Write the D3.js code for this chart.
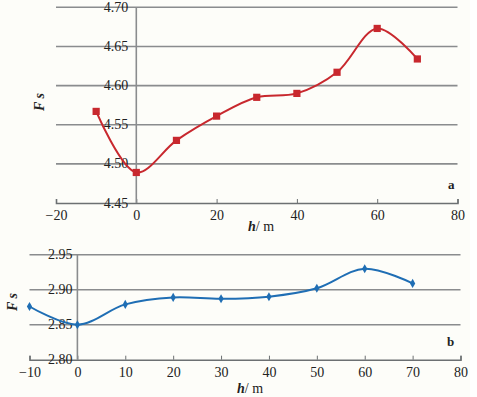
<!DOCTYPE html>
<html>
<head>
<meta charset="utf-8">
<script src="https://cdn.jsdelivr.net/npm/d3@7"></script>
<style>
  body { margin: 0; background: #fff; }
  svg text { font-family: "Liberation Serif", "Times New Roman", serif; fill: #222; }
</style>
</head>
<body>
<svg id="chart" width="477" height="397"></svg>
<script>
// Panel a
const hA = [-10, 0, 10, 20, 30, 40, 50, 60, 70];
const fsA = [4.567, 4.489, 4.530, 4.561, 4.585, 4.590, 4.617, 4.673, 4.634];
const xTicksA = [-20, 0, 20, 40, 60, 80];
const yTicksA = [4.45, 4.50, 4.55, 4.60, 4.65, 4.70];

// Panel b
const hB = [-10, 0, 10, 20, 30, 40, 50, 60, 70];
const fsB = [2.876, 2.850, 2.879, 2.889, 2.887, 2.890, 2.902, 2.930, 2.909];
const xTicksB = [-10, 0, 10, 20, 30, 40, 50, 60, 70, 80];
const yTicksB = [2.80, 2.85, 2.90, 2.95];

const serif = '"Liberation Serif", "Times New Roman", serif';
const svg = d3.select('#chart');

svg.append('rect')
  .attr('x', 0).attr('y', 0)
  .attr('width', 470).attr('height', 397)
  .attr('fill', '#fdfdf9');

function panel(opts) {
  const { xs, ys, xDomain, yDomain, xRange, yRange, xTicks, yTicks,
          color, marker, label, labelPos, hPos, fsPos, tickDx } = opts;
  const x = d3.scaleLinear().domain(xDomain).range(xRange);
  const y = d3.scaleLinear().domain(yDomain).range(yRange);
  const g = svg.append('g');

  // gridlines
  g.selectAll('line.grid')
    .data(yTicks.slice(1))
    .enter().append('line')
    .attr('x1', xRange[0]).attr('x2', xRange[1])
    .attr('y1', d => y(d)).attr('y2', d => y(d))
    .attr('stroke', '#8a8c8e').attr('stroke-width', 1.6);

  // x axis
  const xAxis = g.append('g')
    .attr('transform', `translate(0,${yRange[0]})`)
    .call(d3.axisBottom(x).tickValues(xTicks).tickSize(-4).tickPadding(7)
      .tickFormat(d => d < 0 ? '\u2212' + Math.abs(d) : d));
  xAxis.attr('font-family', serif);
  xAxis.select('.domain').attr('stroke', '#6c7072').attr('stroke-width', 1.6);
  xAxis.selectAll('.tick line').attr('stroke', '#6c7072').attr('stroke-width', 1);
  xAxis.selectAll('text').attr('font-size', 14).attr('fill', '#222')
    .attr('font-family', serif);

  // y axis at x = 0
  g.append('line')
    .attr('x1', x(0)).attr('x2', x(0))
    .attr('y1', yRange[1]).attr('y2', yRange[0])
    .attr('stroke', '#8a8c8e').attr('stroke-width', 1.6);

  g.selectAll('text.ytick')
    .data(yTicks)
    .enter().append('text')
    .attr('x', x(0) - tickDx)
    .attr('y', d => y(d) + 4.5)
    .attr('text-anchor', 'end')
    .attr('font-size', 14)
    .attr('font-family', serif)
    .text(d => d.toFixed(2));

  // line
  const pts = xs.map((v, i) => [v, ys[i]]);
  g.append('path')
    .datum(pts)
    .attr('fill', 'none')
    .attr('stroke', color)
    .attr('stroke-width', 2)
    .attr('d', d3.line().x(d => x(d[0])).y(d => y(d[1])).curve(d3.curveCatmullRom.alpha(0.5)));

  // markers
  const sym = marker === 'square' ? d3.symbolSquare : d3.symbolDiamond;
  const size = marker === 'square' ? 52 : 24;
  g.selectAll('path.mark')
    .data(pts)
    .enter().append('path')
    .attr('transform', d => `translate(${x(d[0])},${y(d[1])})`)
    .attr('d', d3.symbol().type(sym).size(size))
    .attr('fill', color);

  // panel label
  g.append('text')
    .attr('x', labelPos[0]).attr('y', labelPos[1])
    .attr('font-size', 13).attr('font-weight', 'bold')
    .attr('font-family', serif)
    .text(label);

  // x title
  const ht = g.append('text')
    .attr('x', hPos[0]).attr('y', hPos[1])
    .attr('text-anchor', 'middle')
    .attr('font-family', serif)
    .attr('font-size', 14);
  ht.append('tspan').attr('font-style', 'italic').attr('font-weight', 'bold').text('h');
  ht.append('tspan').text('/ m');

  // y title
  g.append('text')
    .attr('transform', `translate(${fsPos[0]},${fsPos[1]}) rotate(-90)`)
    .attr('text-anchor', 'middle')
    .attr('font-family', serif)
    .attr('font-size', 14)
    .attr('font-style', 'italic')
    .attr('font-weight', 'bold')
    .text('F s');
}

panel({
  xs: hA, ys: fsA,
  xDomain: [-20, 80], yDomain: [4.45, 4.70],
  xRange: [56, 457.5], yRange: [203, 7.3],
  xTicks: xTicksA, yTicks: yTicksA,
  color: '#c8282e', marker: 'square',
  label: 'a', labelPos: [448, 189],
  hPos: [261, 231], fsPos: [44, 102],
  tickDx: 8
});

panel({
  xs: hB, ys: fsB,
  xDomain: [-10, 80], yDomain: [2.80, 2.95],
  xRange: [29.5, 460.5], yRange: [359.7, 254.7],
  xTicks: xTicksB, yTicks: yTicksB,
  color: '#1f6eb4', marker: 'diamond',
  label: 'b', labelPos: [447, 346],
  hPos: [250, 393], fsPos: [17, 302],
  tickDx: 5
});
</script>
</body>
</html>
